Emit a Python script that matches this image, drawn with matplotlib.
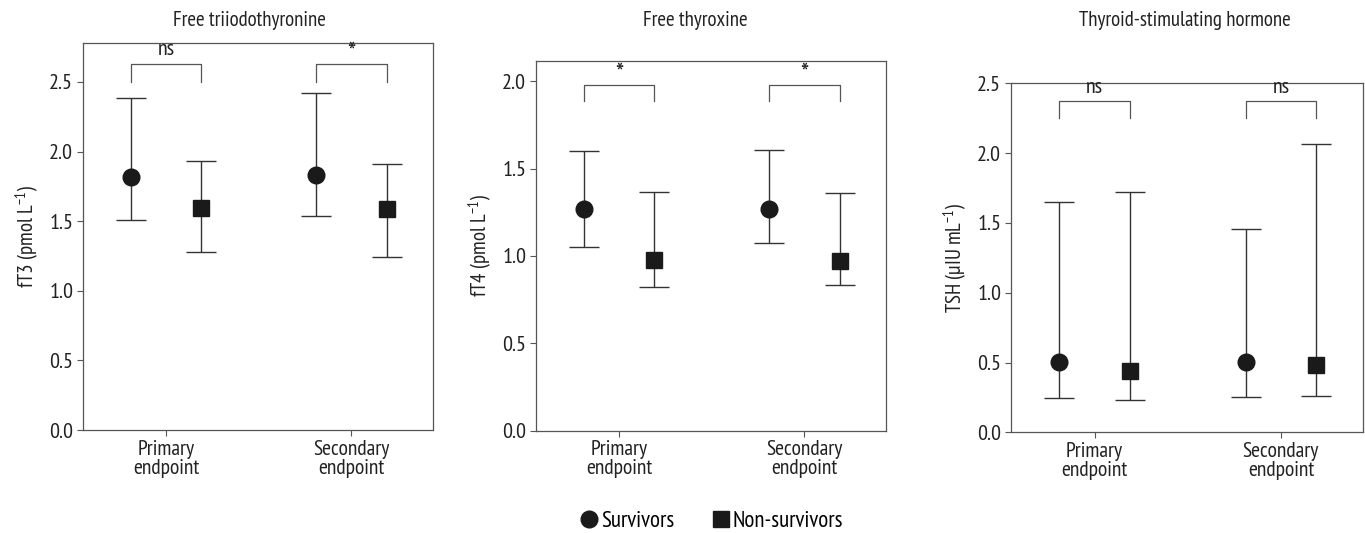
import matplotlib
matplotlib.use("Agg")
import matplotlib.pyplot as plt
from matplotlib.lines import Line2D
from matplotlib import font_manager as fm
import numpy as np

installed = {f.name for f in fm.fontManager.ttflist}
prefs = ['PT Sans Narrow', 'Fira Sans Condensed', 'Archivo Narrow', 'Asap Condensed', 'Liberation Sans']
main_font = next((p for p in prefs if p in installed), 'DejaVu Sans')
plt.rcParams['font.family'] = [main_font, 'DejaVu Sans']
plt.rcParams['mathtext.fontset'] = 'custom'
plt.rcParams['mathtext.rm'] = main_font
plt.rcParams['mathtext.it'] = main_font

categories = ["Primary\nendpoint", "Secondary\nendpoint"]
titles = ["Free triiodothyronine", "Free thyroxine", "Thyroid-stimulating hormone"]
ylabels = ["fT3 (pmol L$^{-1}$)", "fT4 (pmol L$^{-1}$)", "TSH (\u00b5IU mL$^{-1}$)"]

# survivors: centre, lower, upper for [primary, secondary]
surv_mid = [[1.817, 1.835], [1.268, 1.268], [0.501, 0.501]]
surv_lo = [[1.51, 1.538], [1.053, 1.074], [0.248, 0.251]]
surv_hi = [[2.384, 2.42], [1.602, 1.606], [1.65, 1.459]]
# non-survivors
non_mid = [[1.598, 1.589], [0.977, 0.971], [0.441, 0.482]]
non_lo = [[1.28, 1.241], [0.82, 0.834], [0.229, 0.262]]
non_hi = [[1.93, 1.912], [1.366, 1.358], [1.721, 2.065]]

signif = [["ns", "*"], ["*", "*"], ["ns", "ns"]]
bracket_top = [2.63, 1.98, 2.37]
bracket_bot = [2.50, 1.886, 2.25]

ylims = [2.78, 2.115, 2.5]
yticks = [[0.0, 0.5, 1.0, 1.5, 2.0, 2.5], [0.0, 0.5, 1.0, 1.5, 2.0], [0.0, 0.5, 1.0, 1.5, 2.0, 2.5]]

W, H = 1365, 533
fig = plt.figure(figsize=(W / 100, H / 100), dpi=100)
# axes boxes in pixels: left, top, right, bottom
boxes = [(83, 43, 433, 430), (536, 61, 886, 430.7), (1011, 83.3, 1363, 432.3)]
title_x = [249, 695, 1185]

lc = '#333333'
sc = '#555555'
tc = '#222222'
off = 0.19
x = np.arange(1, 3)
for i in range(3):
    l, t, r, b = boxes[i]
    ax = fig.add_axes([l / W, 1 - b / H, (r - l) / W, (b - t) / H])
    sm = np.array(surv_mid[i]); sl = np.array(surv_lo[i]); sh = np.array(surv_hi[i])
    nm = np.array(non_mid[i]); nl = np.array(non_lo[i]); nh = np.array(non_hi[i])
    ax.errorbar(x - off, sm, yerr=[sm - sl, sh - sm], fmt='o', color='#1a1a1a',
                ecolor=lc, elinewidth=1.0, capsize=10.5, capthick=1.0, markersize=12)
    ax.errorbar(x + off, nm, yerr=[nm - nl, nh - nm], fmt='s', color='#1a1a1a',
                ecolor=lc, elinewidth=1.0, capsize=10.5, capthick=1.0, markersize=12)
    for j in range(2):
        xs = [x[j] - off, x[j] - off, x[j] + off, x[j] + off]
        ys = [bracket_bot[i], bracket_top[i], bracket_top[i], bracket_bot[i]]
        ax.plot(xs, ys, color=sc, lw=0.9)
        if signif[i][j] == '*':
            ax.annotate('*', xy=(x[j], bracket_top[i]), xytext=(0, 7.5),
                        textcoords='offset points', ha='center', va='center',
                        fontsize=20, color=tc)
        else:
            ax.annotate(signif[i][j], xy=(x[j], bracket_top[i]), xytext=(0, 3.5),
                        textcoords='offset points', ha='center', va='bottom',
                        fontsize=16, color=tc)
    ax.set_xlim(0.551, 2.44)
    ax.set_ylim(0, ylims[i])
    ax.set_xticks(x)
    ax.set_xticklabels(categories, fontsize=15.5, color=tc, linespacing=1.0)
    ax.set_yticks(yticks[i])
    ax.set_yticklabels([f"{v:.1f}" for v in yticks[i]], fontsize=16, color=tc)
    ax.tick_params(axis='both', direction='out', length=4, width=0.8, color=sc, pad=3)
    for s in ax.spines.values():
        s.set_color(sc)
        s.set_linewidth(0.9)
    ax.set_ylabel(ylabels[i], fontsize=15, color=tc, labelpad=6)
    fig.text(title_x[i] / W, 1 - 21 / H, titles[i], ha='center', va='center',
             fontsize=15, color=tc)

handles = [Line2D([], [], marker='o', ls='', color='#1a1a1a', markersize=12),
           Line2D([], [], marker='s', ls='', color='#1a1a1a', markersize=12)]
fig.legend(handles, ["Survivors", "Non-survivors"], loc='center', bbox_to_anchor=(0.521, 1 - 521 / H),
           ncol=2, frameon=False, fontsize=16.5, handletextpad=0.05, columnspacing=1.6,
           handlelength=0.9)

fig.savefig("out.png", dpi=100)
